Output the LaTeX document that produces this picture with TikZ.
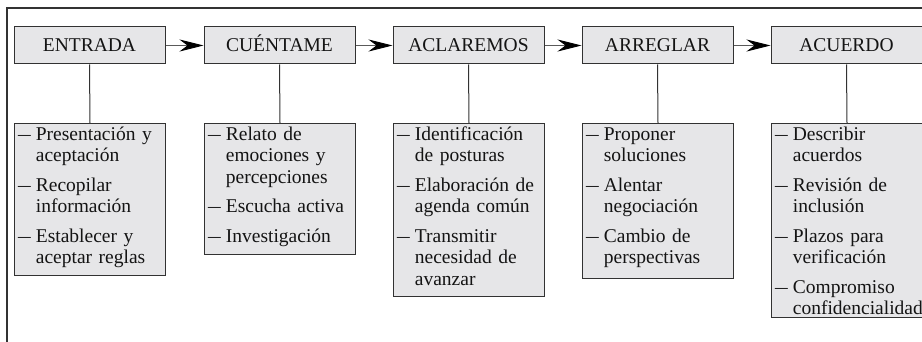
\documentclass[tikz,border=0pt]{standalone}
\usepackage{fontspec}
\usepackage{graphicx}
\setmainfont{Liberation Serif}
\usetikzlibrary{arrows.meta}
\definecolor{boxfill}{RGB}{230,230,232}
\definecolor{boxline}{RGB}{50,50,50}
\definecolor{txt}{RGB}{20,20,20}
\definecolor{arrline}{RGB}{90,90,90}
\newcommand{\dsh}{\makebox[17.7pt][l]{\scalebox{1.3}[1]{–}}}
\newcommand{\ind}{\hspace*{17.7pt}}
\begin{document}
\begin{tikzpicture}[x=1pt,y=-1pt,
  head/.style={draw=boxline,fill=boxfill,line width=1pt,minimum width=151pt,minimum height=37pt,inner sep=0pt,text height=13pt,text depth=0pt,font=\fontsize{19.5}{21.3}\selectfont,text=txt},
  lbox/.style={draw=boxline,fill=boxfill,line width=1pt,minimum width=151pt,inner sep=0pt,anchor=north west},
  ltext/.style={anchor=base west,inner sep=0pt,text width=150pt,align=left,font=\fontsize{19.5}{21.3}\selectfont,text=txt},
  link/.style={draw=boxline,line width=1pt},
  flow/.style={draw=arrline,line width=0.9pt,-{Stealth[length=24pt,width=12pt,inset=8pt,color=black]}},
  frame/.style={draw=boxline,line width=1.4pt}
]
\useasboundingbox (0,0) rectangle (922,342);
% frame
\coordinate (fa) at (7,342);
\coordinate (fb) at (7,8);
\coordinate (fc) at (922,8);
\draw[frame] (fa) -- (fb) -- (fc);
% headers
\node[head] (h1) at (89.5,45.5) {ENTRADA};
\node[head] (h2) at (279.5,45.5) {CUÉNTAME};
\node[head] (h3) at (468.5,45.5) {ACLAREMOS};
\node[head] (h4) at (657.5,45.5) {ARREGLAR};
\node[head] (h5) at (846.5,45.5) {ACUERDO};
% list boxes
\node[lbox,minimum height=152pt] (b1) at (14,123) {};
\node[lbox,minimum height=131pt] (b2) at (204,123) {};
\node[lbox,minimum height=173pt] (b3) at (393,123) {};
\node[lbox,minimum height=155pt] (b4) at (582,123) {};
\node[lbox,minimum height=194pt] (b5) at (771,123) {};
% list texts
\node[ltext] (t1) at (18,140.5) {\dsh Presentación y\\ \ind aceptación\\[8.4pt] \dsh Recopilar\\ \ind información\\[8.4pt] \dsh Establecer y\\ \ind aceptar reglas};
\node[ltext] (t2) at (208,140.5) {\dsh Relato de\\ \ind emociones y\\ \ind percepciones\\[8.4pt] \dsh Escucha activa\\[8.4pt] \dsh Investigación};
\node[ltext] (t3) at (397,140.5) {\dsh Identificación\\ \ind de posturas\\[8.4pt] \dsh Elaboración de\\ \ind agenda común\\[8.4pt] \dsh Transmitir\\ \ind necesidad de\\ \ind avanzar};
\node[ltext] (t4) at (586,140.5) {\dsh Proponer\\ \ind soluciones\\[8.4pt] \dsh Alentar\\ \ind negociación\\[8.4pt] \dsh Cambio de\\ \ind perspectivas};
\node[ltext] (t5) at (775,140.5) {\dsh Describir\\ \ind acuerdos\\[8.4pt] \dsh Revisión de\\ \ind inclusión\\[8.4pt] \dsh Plazos para\\ \ind verificación\\[8.4pt] \dsh Compromiso\\ \ind confidencialidad};
% connectors
\draw[link] (h1.south) -- (b1.north);
\draw[link] (h2.south) -- (b2.north);
\draw[link] (h3.south) -- (b3.north);
\draw[link] (h4.south) -- (b4.north);
\draw[link] (h5.south) -- (b5.north);
% arrows
\draw[flow] (h1.east) -- (h2.west);
\draw[flow] (h2.east) -- (h3.west);
\draw[flow] (h3.east) -- (h4.west);
\draw[flow] (h4.east) -- (h5.west);
\end{tikzpicture}
\end{document}
